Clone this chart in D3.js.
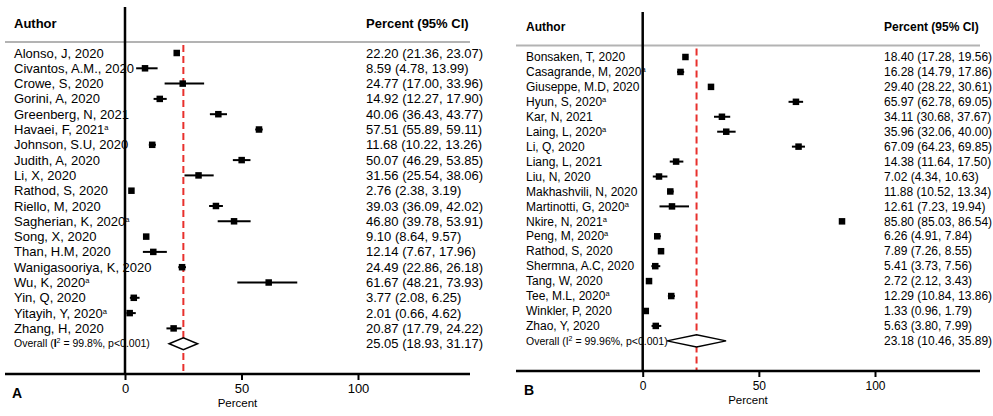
<!DOCTYPE html>
<html>
<head>
<meta charset="utf-8">
<script src="https://cdn.jsdelivr.net/npm/d3@7"></script>
<style>
  body { margin: 0; background: #fff; }
  svg { display: block; font-family: "Liberation Sans", Arial, sans-serif; }
</style>
</head>
<body>
<svg id="chart" width="993" height="416"></svg>
<script>
// ---- panel A data ----
const authorsA = [
  "Alonso, J, 2020", "Civantos, A.M., 2020", "Crowe, S, 2020", "Gorini, A, 2020",
  "Greenberg, N, 2021", "Havaei, F, 2021", "Johnson, S.U, 2020", "Judith, A, 2020",
  "Li, X, 2020", "Rathod, S, 2020", "Riello, M, 2020", "Sagherian, K, 2020",
  "Song, X, 2020", "Than, H.M, 2020", "Wanigasooriya, K, 2020", "Wu, K, 2020",
  "Yin, Q, 2020", "Yitayih, Y, 2020", "Zhang, H, 2020"
];
const supA = [0, 0, 0, 0, 0, 1, 0, 0, 0, 0, 0, 1, 0, 0, 0, 1, 0, 1, 0];
const estA = [22.20, 8.59, 24.77, 14.92, 40.06, 57.51, 11.68, 50.07, 31.56, 2.76, 39.03, 46.80, 9.10, 12.14, 24.49, 61.67, 3.77, 2.01, 20.87];
const lowA = [21.36, 4.78, 17.00, 12.27, 36.43, 55.89, 10.22, 46.29, 25.54, 2.38, 36.09, 39.78, 8.64, 7.67, 22.86, 48.21, 2.08, 0.66, 17.79];
const highA = [23.07, 13.99, 33.96, 17.90, 43.77, 59.11, 13.26, 53.85, 38.06, 3.19, 42.02, 53.91, 9.57, 17.96, 26.18, 73.93, 6.25, 4.62, 24.22];
const overallA = [25.05, 18.93, 31.17];
const i2A = "99.8%";

// ---- panel B data ----
const authorsB = [
  "Bonsaken, T, 2020", "Casagrande, M, 2020", "Giuseppe, M.D, 2020", "Hyun, S, 2020",
  "Kar, N, 2021", "Laing, L, 2020", "Li, Q, 2020", "Liang, L, 2021", "Liu, N, 2020",
  "Makhashvili, N, 2020", "Martinotti, G, 2020", "Nkire, N, 2021", "Peng, M, 2020",
  "Rathod, S, 2020", "Shermna, A.C, 2020", "Tang, W, 2020", "Tee, M.L, 2020",
  "Winkler, P, 2020", "Zhao, Y, 2020"
];
const supB = [0, 1, 0, 1, 0, 1, 0, 0, 0, 0, 1, 1, 1, 0, 0, 0, 1, 0, 0];
const estB = [18.40, 16.28, 29.40, 65.97, 34.11, 35.96, 67.09, 14.38, 7.02, 11.88, 12.61, 85.80, 6.26, 7.89, 5.41, 2.72, 12.29, 1.33, 5.63];
const lowB = [17.28, 14.79, 28.22, 62.78, 30.68, 32.06, 64.23, 11.64, 4.34, 10.52, 7.23, 85.03, 4.91, 7.26, 3.73, 2.12, 10.84, 0.96, 3.80];
const highB = [19.56, 17.86, 30.61, 69.05, 37.67, 40.00, 69.85, 17.50, 10.63, 13.34, 19.94, 86.54, 7.84, 8.55, 7.56, 3.43, 13.86, 1.79, 7.99];
const overallB = [23.18, 10.46, 35.89];
const i2B = "99.96%";

const xTicks = [0, 50, 100];

const svg = d3.select("#chart");

function drawPanel(p) {
  const g = svg.append("g");
  const n = p.authors.length;
  const fs = p.fontSize;

  const x = d3.scaleLinear().domain([0, 100]).range([p.zeroX, p.hundredX]);
  const y = d3.scaleLinear().domain([0, n]).range([p.rowTop, p.rowTop + n * p.rowStep]);

  // headers
  g.append("text").attr("x", p.labelX).attr("y", p.headY).attr("dy", "0.35em")
    .attr("font-size", fs).attr("font-weight", "bold").text("Author");
  g.append("text").attr("x", p.ciX).attr("y", p.headY).attr("dy", "0.35em")
    .attr("font-size", fs).attr("font-weight", "bold").text("Percent (95% CI)");

  // grey rule under header
  g.append("line").attr("x1", p.left).attr("x2", p.right)
    .attr("y1", p.grayY).attr("y2", p.grayY)
    .attr("stroke", "#b3b3b3").attr("stroke-width", 2);

  // study labels
  const rows = d3.range(n);
  const lab = g.selectAll(".lab").data(rows).enter().append("text")
    .attr("class", "lab")
    .attr("x", p.labelX).attr("y", (i) => y(i)).attr("dy", "0.35em")
    .attr("font-size", fs);
  lab.append("tspan").text((i) => p.authors[i]);
  lab.filter((i) => p.sup[i]).append("tspan")
    .attr("font-size", 7.5).attr("dy", -4).text("a");

  // CI text
  const fmt = (v) => v.toFixed(2);
  g.selectAll(".ci").data(rows).enter().append("text")
    .attr("x", p.ciX).attr("y", (i) => y(i)).attr("dy", "0.35em")
    .attr("font-size", fs)
    .text((i) => `${fmt(p.est[i])} (${fmt(p.low[i])}, ${fmt(p.high[i])})`);
  g.append("text").attr("x", p.ciX).attr("y", y(n)).attr("dy", "0.35em")
    .attr("font-size", fs)
    .text(`${fmt(p.overall[0])} (${fmt(p.overall[1])}, ${fmt(p.overall[2])})`);

  // overall label
  const ov = g.append("text").attr("x", p.labelX).attr("y", y(n)).attr("dy", "0.35em")
    .attr("font-size", 10.5);
  ov.append("tspan").text("Overall (");
  ov.append("tspan").attr("font-weight", p.boldI ? "bold" : "normal").text("I");
  ov.append("tspan").attr("font-size", 7).attr("dy", -4).text("2");
  ov.append("tspan").attr("dy", 4).text(` = ${p.i2}, p<0.001)`);

  // red dashed line at pooled estimate
  g.append("line")
    .attr("x1", x(p.overall[0])).attr("x2", x(p.overall[0]))
    .attr("y1", p.grayY + 3).attr("y2", p.axisY)
    .attr("stroke", "#e8302c").attr("stroke-width", 2)
    .attr("stroke-dasharray", "7,4");

  // whiskers
  g.selectAll(".ciw").data(rows).enter().append("line")
    .attr("x1", (i) => x(p.low[i])).attr("x2", (i) => x(p.high[i]))
    .attr("y1", (i) => y(i)).attr("y2", (i) => y(i))
    .attr("stroke", "#000").attr("stroke-width", 2);

  // squares
  const s = 6.5;
  g.selectAll(".pt").data(rows).enter().append("rect")
    .attr("x", (i) => x(p.est[i]) - s / 2).attr("y", (i) => y(i) - s / 2)
    .attr("width", s).attr("height", s).attr("fill", "#000");

  // diamond
  const yo = y(n), h = 6;
  g.append("polygon")
    .attr("points", [
      [x(p.overall[1]), yo], [x(p.overall[0]), yo - h],
      [x(p.overall[2]), yo], [x(p.overall[0]), yo + h]
    ].map((d) => d.join(",")).join(" "))
    .attr("fill", "#fff").attr("stroke", "#000").attr("stroke-width", 1.5);

  // vertical reference line at 0
  g.append("line").attr("x1", x(0)).attr("x2", x(0))
    .attr("y1", p.vTop).attr("y2", p.axisY)
    .attr("stroke", "#000").attr("stroke-width", 2.5);

  // x axis
  const ax = g.append("g").attr("transform", `translate(0,${p.axisY})`)
    .call(d3.axisBottom(x).tickValues(xTicks).tickSize(6).tickPadding(4).tickSizeOuter(0));
  ax.select(".domain").remove();
  ax.selectAll(".tick line").attr("stroke-width", 2);
  ax.selectAll(".tick text").attr("font-size", fs)
    .attr("font-family", '"Liberation Sans", Arial, sans-serif').attr("fill", "#000");
  g.append("line").attr("x1", p.left).attr("x2", p.right)
    .attr("y1", p.axisY).attr("y2", p.axisY)
    .attr("stroke", "#000").attr("stroke-width", 2.5);

  g.append("text").attr("x", (p.left + p.right) / 2).attr("y", p.axisY + 33)
    .attr("text-anchor", "middle").attr("font-size", 11.5).text("Percent");

  g.append("text").attr("x", p.labelX - 2).attr("y", p.axisY + 19).attr("dy", "0.35em")
    .attr("font-size", 14).attr("font-weight", "bold").text(p.letter);
}

drawPanel({
  authors: authorsA, sup: supA, est: estA, low: lowA, high: highA,
  overall: overallA, i2: i2A, boldI: true, letter: "A", fontSize: 13,
  left: 5, right: 470, zeroX: 125, hundredX: 358, labelX: 14, ciX: 366,
  headY: 23, grayY: 42, vTop: 7, rowTop: 53, rowStep: 15.3, axisY: 374
});

drawPanel({
  authors: authorsB, sup: supB, est: estB, low: lowB, high: highB,
  overall: overallB, i2: i2B, boldI: false, letter: "B", fontSize: 12,
  left: 516, right: 980, zeroX: 642.7, hundredX: 875, labelX: 526, ciX: 884,
  headY: 27, grayY: 45.5, vTop: 12, rowTop: 57, rowStep: 14.94, axisY: 371
});
</script>
</body>
</html>
